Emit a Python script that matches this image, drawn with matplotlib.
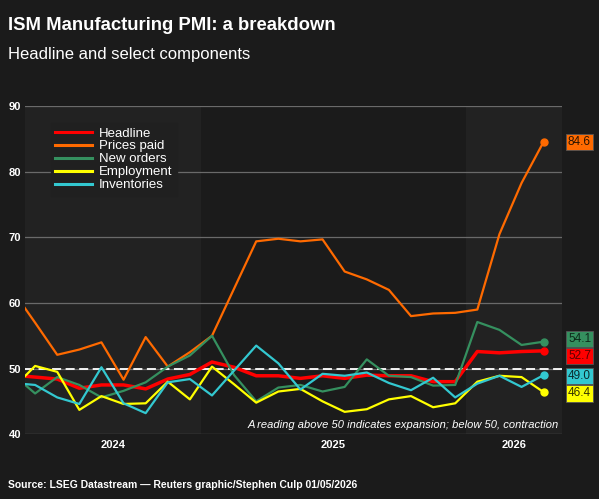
import numpy as np
import matplotlib.pyplot as plt

plt.rcParams["font.family"] = ["Liberation Sans", "DejaVu Sans"]

# Monthly index: 0 = Jan 2024 ... 27 = Apr 2026
months = np.arange(3, 28)
headline = [49.0, 48.7, 48.4, 47.0, 47.5, 47.5, 46.9, 48.4, 49.1, 51.0, 50.2, 48.9, 48.9,
            48.5, 48.9, 48.5, 49.0, 48.9, 48.9, 48.0, 48.0, 52.6, 52.4, 52.6, 52.7]
prices_paid = [61.8, 57.0, 52.1, 52.9, 54.0, 48.3, 54.8, 50.3, 52.5, 55.0, 62.2, 69.4, 69.8,
               69.4, 69.7, 64.8, 63.6, 62.0, 58.0, 58.4, 58.5, 59.0, 70.5, 78.3, 84.6]
new_orders = [49.1, 46.2, 48.7, 47.5, 45.6, 46.6, 47.9, 50.3, 52.0, 55.0, 49.0, 45.0, 47.1,
              47.5, 46.5, 47.2, 51.4, 48.9, 48.7, 47.4, 47.5, 57.1, 55.9, 53.6, 54.1]
employment = [47.0, 50.4, 49.5, 43.7, 45.8, 44.6, 44.7, 48.0, 45.3, 50.3, 47.6, 44.8, 46.5,
              46.9, 45.0, 43.4, 43.8, 45.3, 45.8, 44.1, 44.7, 48.0, 48.9, 48.7, 46.4]
inventories = [47.8, 47.5, 45.6, 44.6, 50.2, 44.7, 43.2, 47.9, 48.4, 45.9, 49.7, 53.5, 50.8,
               46.8, 49.2, 48.9, 49.4, 47.8, 46.7, 48.6, 45.6, 47.7, 48.9, 47.2, 49.0]
years = ["2024", "2025", "2026"]

BG = "#1b1b1b"
BAND = "#222222"
series = [
    ("Headline", headline, "#ff0000", 2.5, "#5a0000"),
    ("Prices paid", prices_paid, "#ff6a00", 1.6, "#2a1400"),
    ("New orders", new_orders, "#35905f", 1.6, "#0e2a1a"),
    ("Employment", employment, "#ffff00", 1.6, "#333300"),
    ("Inventories", inventories, "#33c8d0", 1.6, "#0c2a2c"),
]
# value-label y positions nudged apart to avoid overlap
label_y = {"Headline": 51.9, "Prices paid": 84.6, "New orders": 54.5,
           "Employment": 46.2, "Inventories": 48.9}

fig = plt.figure(figsize=(5.99, 4.99), dpi=100, facecolor=BG)
ax = fig.add_axes([0.042, 0.130, 0.897, 0.657], facecolor=BG)

x0, x1 = 3.55, 27.85
ax.set_xlim(x0, x1)
ax.set_ylim(40, 90)

# alternating year bands
ax.axvspan(x0, 11.5, color=BAND, zorder=0, lw=0)
ax.axvspan(23.5, x1, color=BAND, zorder=0, lw=0)

for y in range(40, 91, 10):
    ax.axhline(y, color="#6a6a6a", lw=0.9, zorder=1)
ax.axhline(50, color="white", lw=1.3, ls=(0, (5, 2.5)), zorder=2)

for name, vals, color, lw, tcol in series:
    ax.plot(months, vals, color=color, lw=lw, label=name, zorder=3, clip_on=True)
    ax.plot(months[-1], vals[-1], "o", color=color, ms=5, zorder=4)
    ax.text(28.1, label_y[name], f"{vals[-1]:.1f}", fontsize=8.5, color=tcol,
            va="center", ha="left", transform=ax.transData, clip_on=False,
            bbox=dict(boxstyle="square,pad=0.18", fc=color, ec="#555555", lw=0.6))

ax.set_yticks(range(40, 91, 10))
ax.set_yticklabels([str(v) for v in range(40, 91, 10)], fontsize=8, fontweight="bold", color="white")
ax.set_xticks([(x0 + 11.5) / 2, 17.5, (23.5 + x1) / 2])
ax.set_xticklabels(years, fontsize=8, fontweight="bold", color="white")
ax.tick_params(length=0, pad=4)
ax.tick_params(axis="y", pad=3)
for s in ax.spines.values():
    s.set_visible(False)

leg = ax.legend(loc="upper left", bbox_to_anchor=(0.035, 0.97), fontsize=9.5, frameon=True,
                facecolor="#202020", edgecolor="#202020", framealpha=1, borderpad=0.35,
                labelspacing=0.05, handlelength=2.8, handletextpad=0.5, fancybox=False)
for t in leg.get_texts():
    t.set_color("white")
for h in leg.get_lines():
    h.set_linewidth(2.2)

ax.text(0.993, 0.012, "A reading above 50 indicates expansion; below 50, contraction",
        transform=ax.transAxes, ha="right", va="bottom", fontsize=8, style="italic", color="white")

fig.text(0.013, 0.965, "ISM Manufacturing PMI: a breakdown", fontsize=13.3, fontweight="bold",
         color="white", va="top")
fig.text(0.013, 0.905, "Headline and select components", fontsize=12, color="white", va="top")
fig.text(0.013, 0.018, "Source: LSEG Datastream \u2014 Reuters graphic/Stephen Culp 01/05/2026",
         fontsize=7.5, fontweight="bold", color="white", va="bottom")

fig.savefig("out.png", dpi=100, facecolor=BG)
